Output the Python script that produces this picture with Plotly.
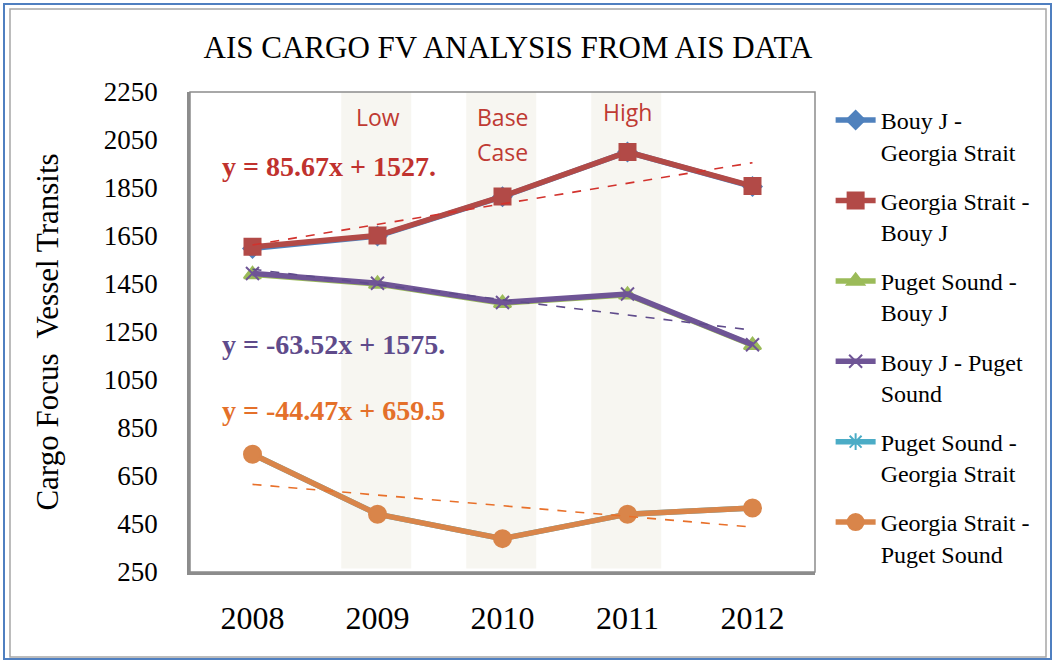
import plotly.graph_objects as go

# ---- data ----
years = [2008, 2009, 2010, 2011, 2012]

bouyj_georgia = [1598, 1650, 1814, 2000, 1856]
georgia_bouyj = [1605, 1652, 1815, 2000, 1858]
puget_bouyj = [1490, 1450, 1370, 1405, 1195]
bouyj_puget = [1494, 1453, 1373, 1408, 1197]
puget_georgia = [741, 491, 389, 491, 517]
georgia_puget = [741, 491, 389, 491, 517]

# linear trend equations (x = 1..5)
trend_red = (85.67, 1527.0)
trend_purple = (-63.52, 1575.0)
trend_orange = (-44.47, 659.5)

scenario_years = [2009, 2010, 2010, 2011]
scenario_names = ["Low", "Base", "Case", "High"]
scenario_label_y = [2222, 2222, 2077, 2242]

y_ticks = [250, 450, 650, 850, 1050, 1250, 1450, 1650, 1850, 2050, 2250]

SERIF = "Liberation Serif, Cambria, DejaVu Serif, serif"

BLUE = "#4F81BD"
RED = "#B24A47"
GREEN = "#9BBB59"
PURPLE = "#6F5596"
TEAL = "#4BACC6"
ORANGE = "#D9854A"

fig = go.Figure()

series = [
    ("Bouy J -<br>Georgia Strait", bouyj_georgia, BLUE, "diamond", 14),
    ("Georgia Strait -<br>Bouy J", georgia_bouyj, RED, "square", 16),
    ("Puget Sound -<br>Bouy J", puget_bouyj, GREEN, "triangle-up", 15),
    ("Bouy J - Puget<br>Sound", bouyj_puget, PURPLE, "x-thin-open", 13),
    ("Puget Sound -<br>Georgia Strait", puget_georgia, TEAL, "asterisk-open", 14),
    ("Georgia Strait -<br>Puget Sound", georgia_puget, ORANGE, "circle", 17),
]

for i, (name, vals, color, sym, size) in enumerate(series):
    fig.add_trace(go.Scatter(
        x=years, y=vals, name=name, mode="lines+markers",
        line=dict(color=color, width=5.5),
        marker=dict(symbol=sym, size=size, color=color,
                    line=dict(color=color, width=2)),
        legendgroup=f"g{i}",
    ))

# dashed trend lines from the fitted equations
for (slope, icpt), color in [(trend_red, "#D2322D"), (trend_purple, "#5F4B8B"),
                             (trend_orange, "#E8702A")]:
    fig.add_trace(go.Scatter(
        x=years, y=[slope * (k + 1) + icpt for k in range(len(years))],
        mode="lines", line=dict(color=color, width=1.6, dash="dash"),
        showlegend=False, hoverinfo="skip",
    ))

shapes = []
# scenario bands
for yr in sorted(set(scenario_years)):
    shapes.append(dict(type="rect", xref="x", yref="y",
                       x0=yr - 0.29, x1=yr + 0.27, y0=265, y1=2250,
                       fillcolor="#F7F6F1", line=dict(width=0), layer="below"))
# plot-area frame
shapes.append(dict(type="rect", xref="paper", yref="paper", x0=0, x1=1, y0=0, y1=1,
                   line=dict(color="#8C8C8C", width=1.5), fillcolor="rgba(0,0,0,0)"))
# outer chart frames
shapes.append(dict(type="rect", xref="paper", yref="paper",
                   x0=(4 - 190) / 625, x1=(1051 - 190) / 625,
                   y0=(572 - 659) / 480, y1=(572 - 4) / 480,
                   line=dict(color="#4F7FC0", width=2)))
shapes.append(dict(type="rect", xref="paper", yref="paper",
                   x0=(10 - 190) / 625, x1=(1046 - 190) / 625,
                   y0=(572 - 657) / 480, y1=(572 - 9) / 480,
                   line=dict(color="#A6A6A6", width=1.5)))

annotations = []
for yr, label, ly in zip(scenario_years, scenario_names, scenario_label_y):
    annotations.append(dict(x=yr, y=ly, xref="x", yref="y", text=label,
                            showarrow=False, yanchor="top",
                            font=dict(family="Open Sans, Noto Sans, sans-serif",
                                      size=23, color="#BF3A33")))

eq_font = dict(family=SERIF, size=28)
for text, yv, color in [("y = 85.67x + 1527.", 1938, "#C0322E"),
                        ("y = -63.52x + 1575.", 1200, "#5F4B8B"),
                        ("y = -44.47x + 659.5", 925, "#E4702A")]:
    annotations.append(dict(x=2007.74, y=yv, xref="x", yref="y", text=f"<b>{text}</b>",
                            showarrow=False, xanchor="left",
                            font=dict(eq_font, color=color)))

fig.update_layout(
    width=1052, height=660,
    margin=dict(l=190, r=237, t=92, b=88),
    paper_bgcolor="white", plot_bgcolor="white",
    title=dict(text="AIS CARGO FV ANALYSIS FROM AIS DATA",
               x=(508) / 1052, xanchor="center", y=1 - 47 / 660, yanchor="middle",
               font=dict(family=SERIF, size=31, color="black")),
    shapes=shapes, annotations=annotations,
    showlegend=True,
    legend=dict(x=1.025, xanchor="left", y=(572 - 98) / 480, yanchor="top",
                font=dict(family=SERIF, size=24, color="black"),
                valign="top", tracegroupgap=15, itemwidth=40,
                bgcolor="rgba(0,0,0,0)"),
    xaxis=dict(range=[2007.5, 2012.5], tickvals=years, ticktext=[str(y) for y in years],
               showgrid=False, zeroline=False, showline=True, linecolor="#8C8C8C",
               linewidth=3, ticks="", ticklabelstandoff=16,
               tickfont=dict(family=SERIF, size=32, color="black")),
    yaxis=dict(range=[250, 2250], tickvals=y_ticks, showgrid=False, zeroline=False,
               showline=True, linecolor="#8C8C8C", linewidth=2.5, ticks="",
               ticklabelstandoff=24,
               tickfont=dict(family=SERIF, size=27, color="black"),
               title=dict(text="Cargo Focus  Vessel Transits", standoff=36,
                          font=dict(family=SERIF, size=31, color="black"))),
)

fig.write_html("out.html")
